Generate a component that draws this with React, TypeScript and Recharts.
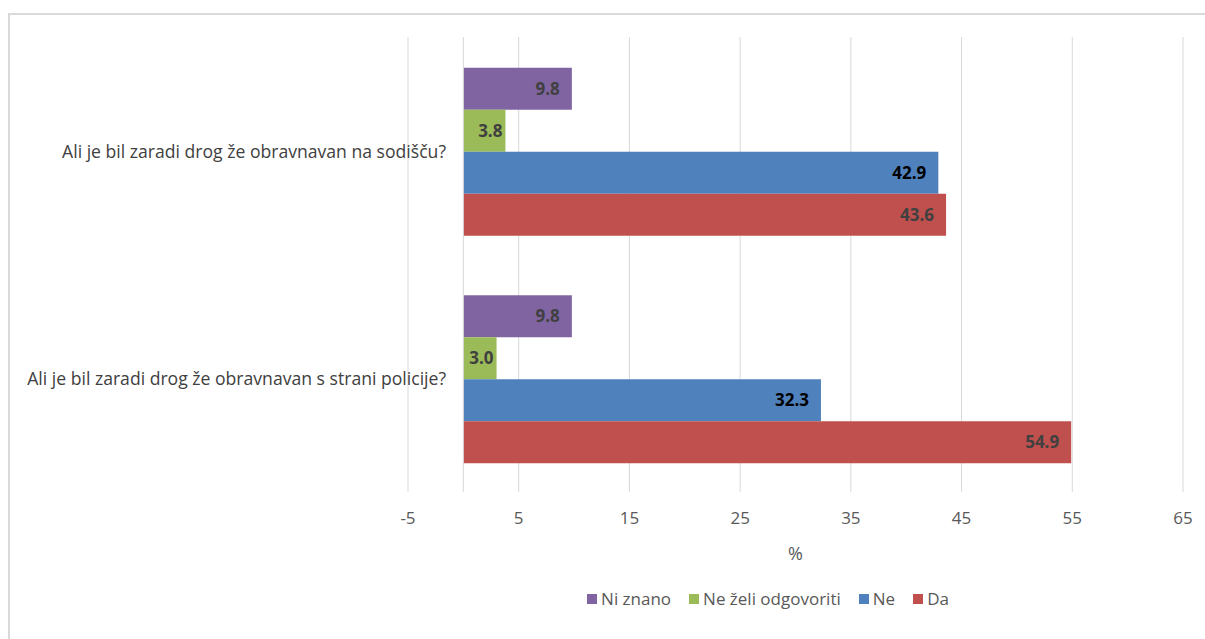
import { BarChart, Bar, XAxis, YAxis, CartesianGrid, LabelList, ReferenceLine } from "recharts";

const questions = [
  "Ali je bil zaradi drog že obravnavan na sodišču?",
  "Ali je bil zaradi drog že obravnavan s strani policije?",
];
const niZnano = [9.8, 9.8];
const neZeli = [3.8, 3.0];
const ne = [42.9, 32.3];
const da = [43.6, 54.9];
const xTicks = [-5, 5, 15, 25, 35, 45, 55, 65];

const data = questions.map((q, i) => ({
  name: q,
  niZnano: niZnano[i],
  neZeli: neZeli[i],
  ne: ne[i],
  da: da[i],
}));

const FONT = "'Open Sans', sans-serif";

const series = [
  { key: "niZnano", name: "Ni znano", color: "#8064a2", label: "#404040", offset: 12 },
  { key: "neZeli", name: "Ne želi odgovoriti", color: "#9bbb59", label: "#404040", offset: 3 },
  { key: "ne", name: "Ne", color: "#4f81bd", label: "#000000", offset: 12 },
  { key: "da", name: "Da", color: "#c0504d", label: "#404040", offset: 12 },
];

function CategoryTick(props: any) {
  const { y, payload } = props;
  return (
    <text x={446} y={y} textAnchor="end" dominantBaseline="central" fill="#404040" fontSize={17.6} fontFamily={FONT}>
      {payload.value}
    </text>
  );
}

function LegendBox() {
  return (
    <div
      style={{
        position: "absolute",
        left: 568,
        top: 587,
        width: 400,
        display: "flex",
        justifyContent: "center",
        fontFamily: FONT,
        fontSize: 17,
        color: "#595959",
      }}
    >
      {series.map((s, i) => (
        <div key={s.key} style={{ display: "flex", alignItems: "center", marginRight: i < series.length - 1 ? 18 : 0 }}>
          <span style={{ display: "inline-block", width: 10, height: 10, background: s.color, marginRight: 4 }} />
          <span>{s.name}</span>
        </div>
      ))}
    </div>
  );
}

export default function App() {
  return (
    <div style={{ position: "absolute", left: 0, top: 0, width: 1205, height: 639, overflow: "hidden", background: "#fff" }}>
      <div style={{ position: "absolute", left: 8, top: 13, width: 1260, height: 700, border: "2px solid #d9d9d9", boxSizing: "border-box" }} />
      <div style={{ position: "absolute", left: 0, top: 0 }}>
        <BarChart
          width={1205}
          height={639}
          data={data}
          layout="vertical"
          margin={{ top: 37, right: 22, bottom: 79, left: 0 }}
          barCategoryGap="13.5%"
          barGap={0}
        >
          <CartesianGrid horizontal={false} vertical={true} stroke="#d9d9d9" />
          <XAxis
            type="number"
            domain={[-5, 65]}
            ticks={xTicks}
            axisLine={false}
            tickLine={false}
            tickMargin={14}
            height={68}
            tick={{ fill: "#595959", fontSize: 17, fontFamily: FONT }}
            label={{ value: "%", position: "insideBottom", offset: 0, fill: "#595959", fontSize: 18, fontFamily: FONT }}
          />
          <YAxis type="category" dataKey="name" width={408} axisLine={false} tickLine={false} tick={<CategoryTick />} />
          <ReferenceLine x={0} stroke="#d9d9d9" />
          {series.map((s) => (
            <Bar key={s.key} dataKey={s.key} name={s.name} fill={s.color} isAnimationActive={false}>
              <LabelList
                dataKey={s.key}
                position="insideRight"
                offset={s.offset}
                formatter={(v: any) => Number(v).toFixed(1)}
                fill={s.label}
                fontSize={17}
                fontWeight="bold"
                fontFamily={FONT}
              />
            </Bar>
          ))}
        </BarChart>
      </div>
      <LegendBox />
    </div>
  );
}
